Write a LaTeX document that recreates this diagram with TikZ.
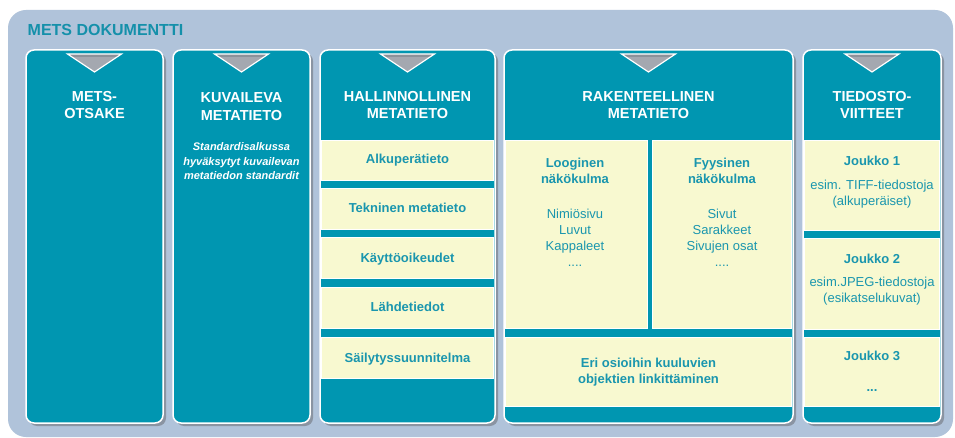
\documentclass[tikz,border=0pt]{standalone}
\usepackage{fontspec}
\setmainfont{Liberation Sans}
\definecolor{bgc}{HTML}{B0C3DA}
\definecolor{mteal}{HTML}{0096B1}
\definecolor{cream}{HTML}{F8F9D0}
\definecolor{txtc}{HTML}{1A96AE}
\definecolor{titc}{HTML}{1590AA}
\definecolor{trig}{HTML}{A4A8B0}
\definecolor{trigd}{HTML}{8C9199}
\definecolor{shad}{HTML}{8A94A2}
\tikzset{
  colbox/.style={fill=mteal, draw=white, line width=1.5pt, rounded corners=8pt, inner sep=0pt, outer sep=0pt, anchor=north west},
  ybox/.style={fill=cream, draw=white, line width=0.7pt, inner sep=0pt, outer sep=0pt, anchor=north west},
  head/.style={text=white, font=\fontsize{14.5}{17}\selectfont\bfseries, inner sep=0pt, anchor=base},
  lab/.style={text=txtc, font=\fontsize{13}{16}\selectfont\bfseries, inner sep=0pt, anchor=base},
  reg/.style={text=txtc, font=\fontsize{13}{16}\selectfont, inner sep=0pt, anchor=base},
  ital/.style={text=white, font=\fontsize{11}{14}\selectfont\bfseries\itshape, inner sep=0pt, anchor=base},
  titl/.style={text=titc, font=\fontsize{16}{19}\selectfont\bfseries, inner sep=0pt, anchor=west}
}
% #1 left x, #2 right x, #3 name
\newcommand\mcol[3]{%
  \fill[shad, rounded corners=8pt] (#1+3,53) rectangle (#2+3,426);
  \node[colbox, minimum width=#2-#1, minimum height=373] (#3) at (#1,50) {};
  \pgfmathsetmacro\cx{(#1+#2)/2}
  \fill[trig] (\cx-27,54) -- (\cx+27,54) -- (\cx,72) -- cycle;
  \fill[trigd] (\cx-27,54) -- (\cx+27,54) -- (\cx+22.5,57) -- (\cx-22.5,57) -- cycle;
  \draw[white, line width=1.2pt, line join=miter] (\cx-27,54) -- (\cx+27,54) -- (\cx,72) -- cycle;
}
% #1 x, #2 y top, #3 width, #4 height, #5 name
\newcommand\ybx[5]{\node[ybox, minimum width=#3, minimum height=#4] (#5) at (#1,#2) {};}
\begin{document}
\begin{tikzpicture}[x=1pt,y=-1pt]
\useasboundingbox (0,0) rectangle (955,438);
\fill[white] (0,0) rectangle (955,438);
\fill[bgc, rounded corners=18pt] (8,10) rectangle (953,437);
\node[titl] (title) at (27.5,30) {METS DOKUMENTTI};

\mcol{26}{163}{c1}
\mcol{173}{310}{c2}
\mcol{320}{495}{c3}
\mcol{504}{793}{c4}
\mcol{803}{941}{c5}

% column 3 boxes
\ybx{321.5}{140}{172}{40}{h1}
\ybx{321.5}{188}{172}{41}{h2}
\ybx{321.5}{237}{172}{41}{h3}
\ybx{321.5}{287}{172}{41}{h4}
\ybx{321.5}{337}{172}{41}{h5}
% column 4 boxes
\ybx{505.5}{140}{141.5}{188}{r1}
\ybx{652}{140}{139.5}{188}{r2}
\ybx{505.5}{337}{286}{69}{r3}
% column 5 boxes
\ybx{804.5}{140}{135}{90}{f1}
\ybx{804.5}{238}{135}{91}{f2}
\ybx{804.5}{337}{135}{69}{f3}

% headings
\node[head] (a1) at (94.5,102) {METS-};
\node[head] (a2) at (94.5,119) {OTSAKE};
\node[head] (b1) at (241.5,103) {KUVAILEVA};
\node[head] (b2) at (241.5,120.5) {METATIETO};
\node[head] (d1) at (407.5,101.5) {HALLINNOLLINEN};
\node[head] (d2) at (407.5,118.5) {METATIETO};
\node[head] (e1) at (648.5,101.5) {RAKENTEELLINEN};
\node[head] (e2) at (648.5,118.5) {METATIETO};
\node[head] (g1) at (872,102) {TIEDOSTO-};
\node[head] (g2) at (872,118.5) {VIITTEET};

% column 2 italic
\node[ital] (i1) at (241.5,151) {Standardisalkussa};
\node[ital] (i2) at (241.5,165.5) {hyväksytyt kuvailevan};
\node[ital] (i3) at (241.5,179.5) {metatiedon standardit};

% column 3 labels
\node[lab] (l1) at (407.5,163.5) {Alkuperätieto};
\node[lab] (l2) at (407.5,212.5) {Tekninen metatieto};
\node[lab] (l3) at (407.5,262.5) {Käyttöoikeudet};
\node[lab] (l4) at (407.5,311.5) {Lähdetiedot};
\node[lab] (l5) at (407.5,362.5) {Säilytyssuunnitelma};

% column 4
\node[lab] (m1) at (575,167.5) {Looginen};
\node[lab] (m2) at (575,183.5) {näkökulma};
\node[reg] (m3) at (575,218.5) {Nimiösivu};
\node[reg] (m4) at (575,234.5) {Luvut};
\node[reg] (m5) at (575,250.5) {Kappaleet};
\node[reg] (m6) at (575,266) {....};
\node[lab] (n1) at (722,167.5) {Fyysinen};
\node[lab] (n2) at (722,183.5) {näkökulma};
\node[reg] (n3) at (722,218.5) {Sivut};
\node[reg] (n4) at (722,234.5) {Sarakkeet};
\node[reg] (n5) at (722,250.5) {Sivujen osat};
\node[reg] (n6) at (722,266) {....};
\node[lab] (o1) at (648.5,367.5) {Eri osioihin kuuluvien};
\node[lab] (o2) at (648.5,383) {objektien linkittäminen};

% column 5
\node[lab] (p1) at (872,165.5) {Joukko 1};
\node[reg] (p2) at (872,189.5) {esim. TIFF-tiedostoja};
\node[reg] (p3) at (872,205.5) {(alkuperäiset)};
\node[lab] (q1) at (872,263.5) {Joukko 2};
\node[reg] (q2) at (872,286.5) {esim.JPEG-tiedostoja};
\node[reg] (q3) at (872,302) {(esikatselukuvat)};
\node[lab] (s1) at (872,360.5) {Joukko 3};
\node[lab] (s2) at (872,391) {...};
\end{tikzpicture}
\end{document}
